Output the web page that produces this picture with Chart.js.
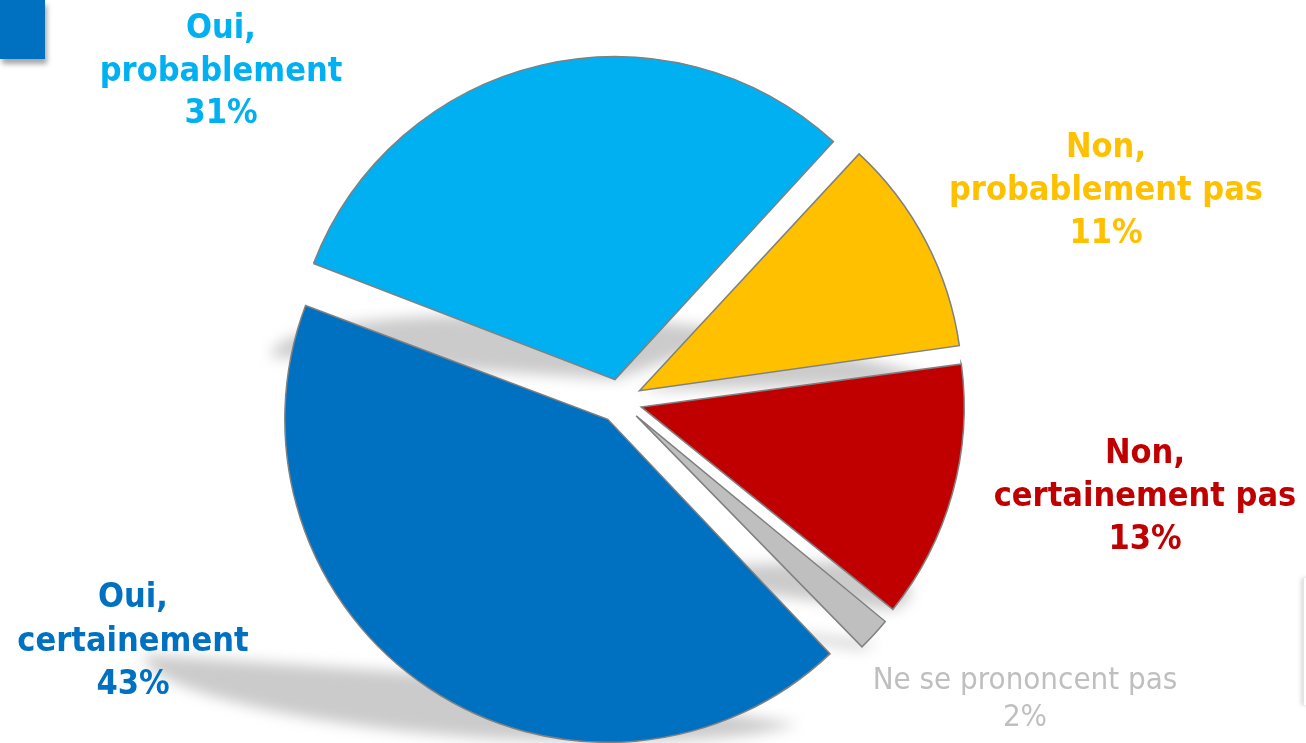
<!DOCTYPE html>
<html lang="fr">
<head>
<meta charset="utf-8">
<title>Intention</title>
<script src="https://cdn.jsdelivr.net/npm/chart.js@4.4.1/dist/chart.umd.min.js"></script>
<style>
  html, body { margin: 0; padding: 0; background: #fff; }
  #wrap { position: relative; width: 1306px; height: 743px; overflow: hidden; }
  #corner { position: absolute; left: 0; top: 0; width: 45px; height: 59px; background: #0070C0; box-shadow: 2px 5px 5px rgba(0,0,0,0.35); }
  #edge { position: absolute; left: 1303px; top: 578px; width: 10px; height: 127px; background: #fff; border-left: 1px solid #e4e4e4; box-shadow: -2px 0 4px rgba(0,0,0,0.15); }
  #chartBox { position: absolute; left: 0; top: 0; width: 1306px; height: 743px; }
</style>
</head>
<body>
<div id="wrap">
  <div id="chartBox"><canvas id="pieChart"></canvas></div>
  <div id="corner"></div>
  <div id="edge"></div>
</div>
<script>
// --- Data ---
const categories = ['Oui, certainement', 'Oui, probablement', 'Non, probablement pas', 'Non, certainement pas', 'Ne se prononcent pas'];
const values = [43, 31, 11, 13, 2];
const sliceColors = ['#0070C0', '#00B0F0', '#FFC000', '#C00000', '#BFBFBF'];
const textColors = ['#0070C0', '#00B0F0', '#FFC000', '#C00000', '#BFBFBF'];

// --- Look ---
const START_ANGLE = 136.2;   // degrees, where the first slice starts
const PIE_RADIUS = 323;
const GAP = 22;              // how far each slice is pulled out
const SHADOW_SKEW = 0.37;
const SHADOW_SCALE = 0.2;
const BOLD_FONT = "bold 34px 'DejaVu Sans Condensed', 'DejaVu Sans', sans-serif";
const PLAIN_FONT = "31px 'DejaVu Sans Condensed', 'DejaVu Sans', sans-serif";

// label anchor: centre x, first baseline, line height
const labelPos = [
    { x: 133, y: 607, lh: 43.5, bold: true },
    { x: 221, y: 38, lh: 42.5, bold: true },
    { x: 1106, y: 157, lh: 43, bold: true },
    { x: 1145, y: 463, lh: 43, bold: true },
    { x: 1025, y: 689, lh: 37, bold: false }
];

// chart.js moves an arc by offset/4 and also grows its radius by offset/4 * fix.
// Undo the growth so all slices keep the same radius.
function radiusGrowth(circumference) {
    return GAP * (1 - Math.sin(Math.min(Math.PI, circumference)));
}

// flattened, skewed shadow under each slice (like the office "perspective" shadow)
const perspectiveShadow = {
    id: 'perspectiveShadow',
    beforeDatasetsDraw(chart) {
        const ctx = chart.ctx;
        const arcs = chart.getDatasetMeta(0).data;
        ctx.save();
        ctx.fillStyle = '#cbcbcb';
        ctx.filter = 'blur(7px)';
        arcs.forEach(arc => {
            const p = arc.getProps(['x', 'y', 'startAngle', 'endAngle', 'outerRadius', 'circumference']);
            const half = (p.startAngle + p.endAngle) / 2;
            const cx = p.x + Math.cos(half) * GAP;
            const cy = p.y + Math.sin(half) * GAP;
            const r = p.outerRadius;
            let bottom = Math.max(cy, cy + r * Math.sin(p.startAngle), cy + r * Math.sin(p.endAngle));
            const down = p.startAngle + ((((Math.PI / 2 - p.startAngle) % (2 * Math.PI)) + 2 * Math.PI) % (2 * Math.PI));
            if (down <= p.endAngle) bottom = cy + r;
            ctx.save();
            ctx.transform(1, 0, SHADOW_SKEW, SHADOW_SCALE, -SHADOW_SKEW * bottom, bottom * (1 - SHADOW_SCALE));
            ctx.beginPath();
            ctx.moveTo(cx, cy);
            ctx.arc(cx, cy, r, p.startAngle, p.endAngle);
            ctx.closePath();
            ctx.fill();
            ctx.restore();
        });
        ctx.restore();

        // shrink each arc back so the exploded slices all share one radius
        arcs.forEach(arc => {
            arc._baseRadius = arc.outerRadius;
            arc.outerRadius = arc.outerRadius - radiusGrowth(arc.circumference);
        });
    },
    afterDatasetsDraw(chart) {
        chart.getDatasetMeta(0).data.forEach(arc => {
            if (arc._baseRadius !== undefined) arc.outerRadius = arc._baseRadius;
        });
    }
};

const sliceLabels = {
    id: 'sliceLabels',
    afterDatasetsDraw(chart) {
        const ctx = chart.ctx;
        ctx.save();
        ctx.textAlign = 'center';
        ctx.textBaseline = 'alphabetic';
        categories.forEach((cat, i) => {
            const pos = labelPos[i];
            const lines = cat.replace(', ', ',\n').split('\n');
            lines.push(values[i] + '%');
            ctx.font = pos.bold ? BOLD_FONT : PLAIN_FONT;
            ctx.fillStyle = textColors[i];
            lines.forEach((line, j) => {
                ctx.fillText(line, pos.x, pos.y + j * pos.lh);
            });
        });
        ctx.restore();
    }
};

const ctx = document.getElementById('pieChart').getContext('2d');
const pieChart = new Chart(ctx, {
    type: 'pie',
    data: {
        labels: categories,
        datasets: [{
            data: values,
            backgroundColor: sliceColors,
            borderColor: '#808080',
            borderWidth: 1.5,
            borderJoinStyle: 'miter',
            offset: GAP * 4,
            clip: false
        }]
    },
    options: {
        responsive: true,
        maintainAspectRatio: false,
        animation: false,
        rotation: START_ANGLE,
        radius: PIE_RADIUS,
        layout: { padding: { left: 0, right: 66, top: 59, bottom: 0 } },
        plugins: {
            legend: { display: false },
            tooltip: { enabled: false }
        },
        events: []
    },
    plugins: [perspectiveShadow, sliceLabels]
});
</script>
</body>
</html>
